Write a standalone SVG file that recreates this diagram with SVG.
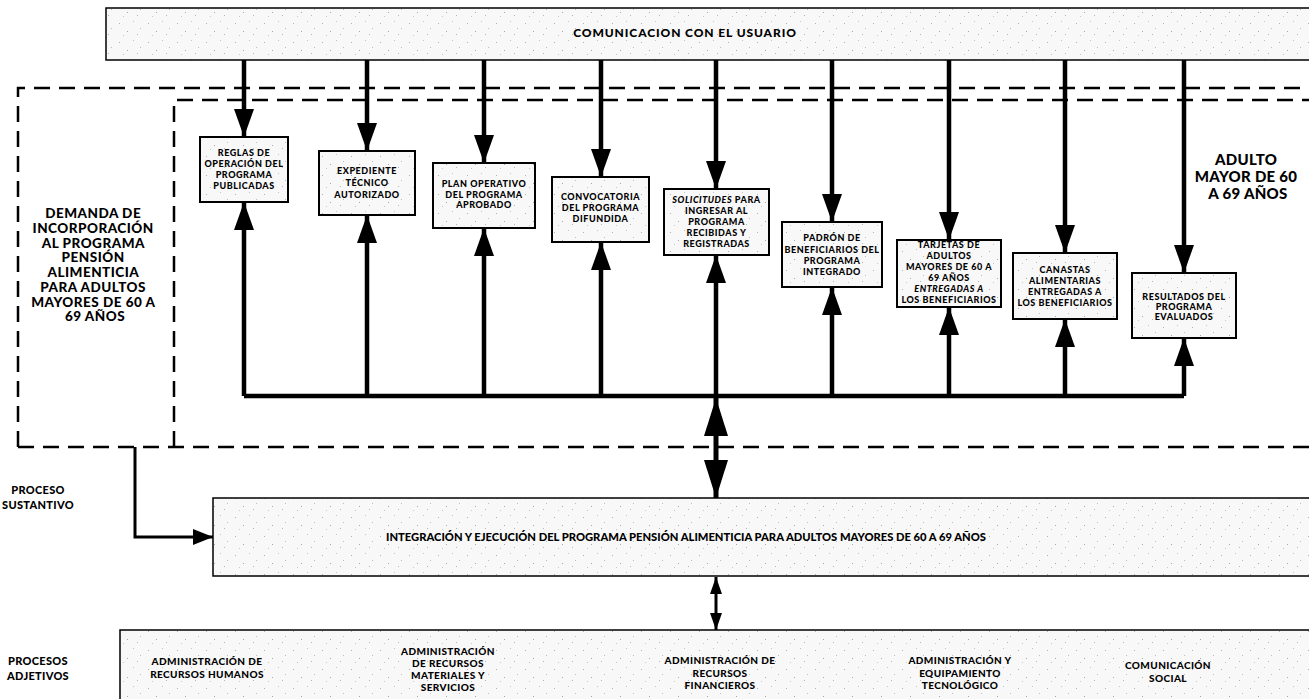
<svg xmlns="http://www.w3.org/2000/svg" width="1309" height="699" viewBox="0 0 1309 699">
<style>
  .lbl{font-family:Lato,"Liberation Sans",sans-serif;font-weight:900;fill:#000;text-anchor:middle}
  .sm{font-size:9px;letter-spacing:0.55px}
  .md{font-size:10px;letter-spacing:0.4px}
  .side{font-size:11px;letter-spacing:0.3px}
  .big{font-size:13.5px;letter-spacing:0.5px}
  .band{fill:url(#grain);stroke:#000;stroke-width:1.5}
  .node{fill:url(#grain);stroke:#000;stroke-width:2}
  .dash{fill:none;stroke:#000;stroke-width:2.5;stroke-dasharray:16 9}
  .flow{fill:none;stroke:#000;stroke-width:4.5;marker-end:url(#head)}
  .bus{fill:none;stroke:#000;stroke-width:4.5}
</style>
<defs>
  <!-- light speckled fill used by the bands and boxes -->
  <pattern id="grain" width="29" height="19" patternUnits="userSpaceOnUse">
    <rect width="29" height="19" fill="#f8f8f8"/>
    <rect x="3" y="4" width="1" height="1" fill="#b0b0b0"/>
    <rect x="17" y="2" width="1" height="1" fill="#c4c4c4"/>
    <rect x="11" y="12" width="1" height="1" fill="#a8a8a8"/>
    <rect x="24" y="9" width="1" height="1" fill="#bcbcbc"/>
    <rect x="7" y="16" width="1" height="1" fill="#c8c8c8"/>
    <rect x="21" y="15" width="1" height="1" fill="#b4b4b4"/>
  </pattern>
  <marker id="head" markerUnits="userSpaceOnUse" viewBox="0 0 28 20" refX="28" refY="10" markerWidth="28" markerHeight="20" orient="auto-start-reverse">
    <path d="M0,0L28,10L0,20z" fill="#000"/>
  </marker>
  <marker id="headL" markerUnits="userSpaceOnUse" viewBox="0 0 38 24" refX="38" refY="12" markerWidth="38" markerHeight="24" orient="auto-start-reverse">
    <path d="M0,0L38,12L0,24z" fill="#000"/>
  </marker>
  <marker id="headS" markerUnits="userSpaceOnUse" viewBox="0 0 17 12" refX="17" refY="6" markerWidth="17" markerHeight="12" orient="auto-start-reverse">
    <path d="M0,0L17,6L0,12z" fill="#000"/>
  </marker>
  <marker id="headM" markerUnits="userSpaceOnUse" viewBox="0 0 20 16" refX="20" refY="8" markerWidth="20" markerHeight="16" orient="auto">
    <path d="M0,0L20,8L0,16z" fill="#000"/>
  </marker>
</defs>

<!-- dashed boundaries -->
<g id="boundaries">
  <path class="dash" d="M18,447 L18,88 L1309,88"/>
  <path class="dash" d="M18,447 L1309,447"/>
  <path class="dash" d="M174,447 L174,100 L1309,100"/>
</g>

<g id="usuario">
  <rect class="band" x="106" y="8" width="1210" height="52"/>
  <text class="lbl" style="font-size:12px;letter-spacing:0.9px" x="685" y="37">COMUNICACION CON EL USUARIO</text>
</g>

<g id="demanda">
  <text class="lbl big">
    <tspan x="95" y="218">DEMANDA DE</tspan>
    <tspan x="95" y="232.8">INCORPORACIÓN</tspan>
    <tspan x="95" y="247.5">AL PROGRAMA</tspan>
    <tspan x="95" y="262">PENSIÓN</tspan>
    <tspan x="95" y="277">ALIMENTICIA</tspan>
    <tspan x="95" y="291.8">PARA ADULTOS</tspan>
    <tspan x="95" y="306.5">MAYORES DE 60 A</tspan>
    <tspan x="95" y="321.3">69 AÑOS</tspan>
  </text>
</g>

<g id="adulto-mayor">
  <text class="lbl" style="font-size:15px;letter-spacing:0.3px">
    <tspan x="1248" y="165">ADULTO</tspan>
    <tspan x="1248" y="182">MAYOR DE 60</tspan>
    <tspan x="1248" y="199">A 69 AÑOS</tspan>
  </text>
</g>

<g id="reglas">
  <rect class="node" x="200" y="137" width="88" height="65"/>
  <text class="lbl sm"><tspan x="244" y="156">REGLAS DE</tspan><tspan x="244" y="167">OPERACIÓN DEL</tspan><tspan x="244" y="178">PROGRAMA</tspan><tspan x="244" y="188.5">PUBLICADAS</tspan></text>
</g>
<g id="expediente">
  <rect class="node" x="319" y="151" width="96" height="64"/>
  <text class="lbl sm"><tspan x="367" y="174">EXPEDIENTE</tspan><tspan x="367" y="186">TÉCNICO</tspan><tspan x="367" y="198">AUTORIZADO</tspan></text>
</g>
<g id="plan">
  <rect class="node" x="433" y="163" width="102" height="65"/>
  <text class="lbl sm"><tspan x="484" y="187">PLAN OPERATIVO</tspan><tspan x="484" y="197.5">DEL PROGRAMA</tspan><tspan x="484" y="208">APROBADO</tspan></text>
</g>
<g id="convocatoria">
  <rect class="node" x="552" y="177" width="97" height="65"/>
  <text class="lbl sm"><tspan x="600.5" y="200">CONVOCATORIA</tspan><tspan x="600.5" y="211">DEL PROGRAMA</tspan><tspan x="600.5" y="222">DIFUNDIDA</tspan></text>
</g>
<g id="solicitudes">
  <rect class="node" x="664" y="189" width="105" height="66"/>
  <text class="lbl sm"><tspan x="716.5" y="203"><tspan font-style="italic">SOLICITUDES</tspan> PARA</tspan><tspan x="716.5" y="214">INGRESAR AL</tspan><tspan x="716.5" y="225">PROGRAMA</tspan><tspan x="716.5" y="236">RECIBIDAS Y</tspan><tspan x="716.5" y="247">REGISTRADAS</tspan></text>
</g>
<g id="padron">
  <rect class="node" x="782" y="222" width="100" height="65"/>
  <text class="lbl sm"><tspan x="832" y="241">PADRÓN DE</tspan><tspan x="832" y="253">BENEFICIARIOS DEL</tspan><tspan x="832" y="264">PROGRAMA</tspan><tspan x="832" y="275">INTEGRADO</tspan></text>
</g>
<g id="tarjetas">
  <rect class="node" x="897" y="240" width="104" height="67"/>
  <text class="lbl sm"><tspan x="949" y="248">TARJETAS DE</tspan><tspan x="949" y="259">ADULTOS</tspan><tspan x="949" y="270">MAYORES DE 60 A</tspan><tspan x="949" y="281">69 AÑOS</tspan><tspan x="949" y="292" font-style="italic">ENTREGADAS A</tspan><tspan x="949" y="303">LOS BENEFICIARIOS</tspan></text>
</g>
<g id="canastas">
  <rect class="node" x="1013" y="253" width="104" height="66"/>
  <text class="lbl sm"><tspan x="1065" y="273">CANASTAS</tspan><tspan x="1065" y="284">ALIMENTARIAS</tspan><tspan x="1065" y="295">ENTREGADAS A</tspan><tspan x="1065" y="306">LOS BENEFICIARIOS</tspan></text>
</g>
<g id="resultados">
  <rect class="node" x="1132" y="273" width="104" height="65"/>
  <text class="lbl sm"><tspan x="1184" y="300">RESULTADOS DEL</tspan><tspan x="1184" y="310">PROGRAMA</tspan><tspan x="1184" y="320">EVALUADOS</tspan></text>
</g>

<g id="proceso-sustantivo">
  <text class="lbl side"><tspan x="38" y="494">PROCESO</tspan><tspan x="38" y="509">SUSTANTIVO</tspan></text>
</g>

<g id="integracion">
  <rect class="band" x="213" y="498" width="1103" height="78"/>
  <text class="lbl" style="font-size:10.5px" x="686" y="541" textLength="600" lengthAdjust="spacingAndGlyphs">INTEGRACIÓN Y EJECUCIÓN DEL PROGRAMA PENSIÓN ALIMENTICIA PARA ADULTOS MAYORES DE 60 A 69 AÑOS</text>
</g>

<g id="procesos-adjetivos">
  <text class="lbl side"><tspan x="38" y="665">PROCESOS</tspan><tspan x="38" y="680">ADJETIVOS</tspan></text>
</g>

<g id="adjetivos">
  <rect class="band" x="120" y="630" width="1196" height="80"/>
  <text class="lbl md"><tspan x="207" y="665">ADMINISTRACIÓN DE</tspan><tspan x="207" y="678">RECURSOS HUMANOS</tspan></text>
  <text class="lbl md"><tspan x="448" y="655">ADMINISTRACIÓN</tspan><tspan x="448" y="667">DE RECURSOS</tspan><tspan x="448" y="679">MATERIALES Y</tspan><tspan x="448" y="691">SERVICIOS</tspan></text>
  <text class="lbl md"><tspan x="720" y="664">ADMINISTRACIÓN DE</tspan><tspan x="720" y="677">RECURSOS</tspan><tspan x="720" y="689">FINANCIEROS</tspan></text>
  <text class="lbl md"><tspan x="960" y="664">ADMINISTRACIÓN Y</tspan><tspan x="960" y="677">EQUIPAMIENTO</tspan><tspan x="960" y="689">TECNOLÓGICO</tspan></text>
  <text class="lbl md"><tspan x="1168" y="669">COMUNICACIÓN</tspan><tspan x="1168" y="682">SOCIAL</tspan></text>
</g>

<g id="connectors">
  <!-- from the user channel down to each product -->
  <path class="flow" d="M244,60V137"/>
  <path class="flow" d="M367,60V151"/>
  <path class="flow" d="M484,60V163"/>
  <path class="flow" d="M601,60V177"/>
  <path class="flow" d="M716,60V189"/>
  <path class="flow" d="M832,60V222"/>
  <path class="flow" d="M949,60V240"/>
  <path class="flow" d="M1065,60V253"/>
  <path class="flow" d="M1184,60V273"/>
  <!-- shared bus feeding the products from below -->
  <path class="bus" d="M244,396H1184"/>
  <path class="flow" d="M244,396V202"/>
  <path class="flow" d="M367,396V215"/>
  <path class="flow" d="M484,396V228"/>
  <path class="flow" d="M601,396V242"/>
  <path class="flow" d="M716,396V255"/>
  <path class="flow" d="M832,396V287"/>
  <path class="flow" d="M949,396V307"/>
  <path class="flow" d="M1065,396V319"/>
  <path class="flow" d="M1184,396V338"/>
  <!-- bus to integration band, both ways -->
  <path fill="none" stroke="#000" stroke-width="5" marker-start="url(#headL)" marker-end="url(#headL)" d="M716,398V498"/>
  <!-- integration band to support processes, both ways -->
  <path fill="none" stroke="#000" stroke-width="3" marker-start="url(#headS)" marker-end="url(#headS)" d="M716,577V630"/>
  <!-- demand into integration -->
  <path fill="none" stroke="#000" stroke-width="3" marker-end="url(#headM)" d="M135,447V537H213"/>
</g>
</svg>
